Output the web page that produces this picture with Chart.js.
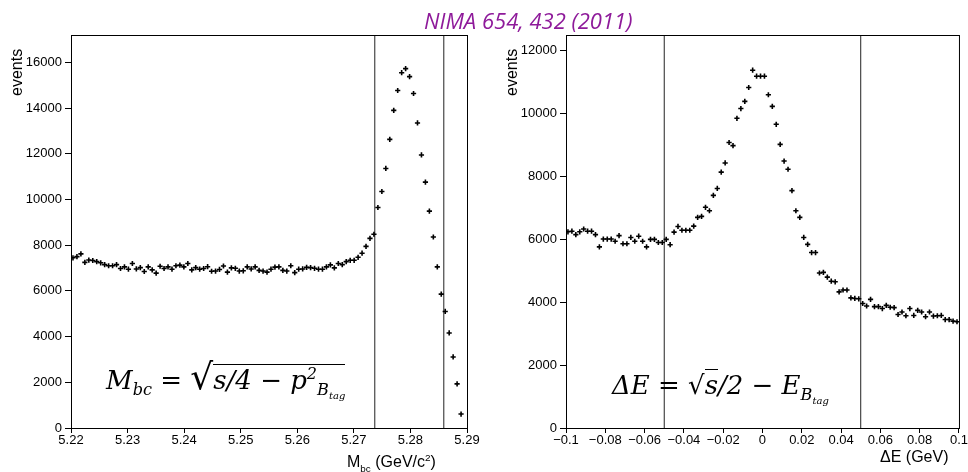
<!DOCTYPE html>
<html>
<head>
<meta charset="utf-8">
<script src="https://cdn.jsdelivr.net/npm/chart.js@4"></script>
<style>
  body { margin: 0; width: 968px; height: 472px; background: #fff; position: relative; overflow: hidden; font-family: "Liberation Sans", Arial, sans-serif; }
  .cv { position: absolute; top: 0; }
  .txt { position: absolute; white-space: nowrap; }
  .ytitle { transform: rotate(-90deg); transform-origin: left top; font-size: 16px; }
  .xtitle { font-size: 16px; }
  .formula { font-family: "DejaVu Serif", serif; font-style: italic; font-size: 26px; }
  sub, sup { font-size: 62%; }
</style>
</head>
<body>
<div id="w1" class="cv" style="left:0;width:480px;height:472px"><canvas id="c1"></canvas></div>
<div id="w2" class="cv" style="left:480px;width:488px;height:472px"><canvas id="c2"></canvas></div>

<div class="txt" style="left:424px;top:5px;font-size:22px;font-style:italic;color:#8e1a9a;font-family:'Open Sans',sans-serif">NIMA 654, 432 (2011)</div>
<div class="txt ytitle" style="left:8px;top:96px">events</div>
<div class="txt ytitle" style="left:503px;top:96px">events</div>
<div class="txt xtitle" style="left:347px;top:452px">M<sub>bc</sub> (GeV/c<sup>2</sup>)</div>
<div class="txt xtitle" style="left:880px;top:448px">ΔE (GeV)</div>
<div class="txt formula" style="left:106px;top:356px">M<sub>bc</sub> = <span style="font-style:normal;font-size:36px">√</span><span style="border-top:1.5px solid #000">s/4 − p<sup>2</sup><sub>B<sub>tag</sub></sub></span></div>
<div class="txt formula" style="left:612px;top:370px">ΔE = <span style="font-style:normal">√</span><span style="border-top:1.5px solid #000">s</span>/2 − E<sub>B<sub>tag</sub></sub></div>

<script>
// M_bc histogram: 100 bins of 0.0007 from 5.22
const mbcStart = 5.22, mbcBin = 0.0007;
const mbcCounts = [
  7450,7500,7620,7250,7350,7330,7280,7230,7150,7100,
  7100,7150,6980,7050,6950,7200,6960,7020,6850,7050,
  6920,6780,7080,6980,7050,6950,7100,7130,7050,7200,
  6920,7020,6950,6980,7060,6860,6870,6940,7090,6820,
  7010,6990,6870,6880,7050,6960,7050,6900,6870,6820,
  6950,7040,7050,6900,6870,7100,6800,6950,6960,7030,
  7020,6990,6950,6950,7050,7140,7010,7200,7150,7280,
  7340,7340,7470,7650,7950,8300,8480,
  9650,10350,11360,12630,13900,14770,15550,15730,15380,14640,
  13350,11950,10760,9490,8360,7050,5860,5100,4160,3110,1930,610
];
const mbcCuts = [5.2737, 5.2859];
const mbcXTicks = [5.22, 5.23, 5.24, 5.25, 5.26, 5.27, 5.28, 5.29];
const mbcYTicks = [0, 2000, 4000, 6000, 8000, 10000, 12000, 14000, 16000];

// Delta E histogram: 100 bins of 0.002 from -0.1
const deStart = -0.1, deBin = 0.002;
const deCounts = [
  6240,6260,6150,6240,6330,6260,6260,6150,5760,6010,
  6010,6010,5940,6120,5860,5860,6060,5940,6100,5940,
  5760,6000,6000,5900,5900,6000,5830,6230,6410,6290,
  6290,6290,6420,6700,6730,7020,6910,7400,7620,8140,
  8430,9080,8980,9850,10160,10390,10830,11380,11190,11190,
  11190,10600,10230,9660,9020,8490,8230,7550,6910,6700,
  6060,5840,5580,5580,4930,4950,4800,4670,4650,4330,
  4390,4390,4140,4120,4110,3960,3880,4090,3860,3860,
  3800,3900,3840,3830,3610,3690,3570,3800,3580,3740,
  3690,3540,3690,3560,3570,3580,3450,3450,3400,3380
];
const deCuts = [-0.05, 0.05];
const deXTicks = [-0.1, -0.08, -0.06, -0.04, -0.02, 0, 0.02, 0.04, 0.06, 0.08, 0.1];
const deYTicks = [0, 2000, 4000, 6000, 8000, 10000, 12000];

Chart.defaults.font.family = '"Liberation Sans", Arial, sans-serif';
Chart.defaults.color = '#000';

const frame = {
  id: 'frame',
  afterDraw(chart) {
    const a = chart.chartArea, ctx = chart.ctx;
    ctx.save();
    ctx.strokeStyle = '#000';
    ctx.lineWidth = 1;
    ctx.strokeRect(a.left + 0.5, a.top + 0.5, a.right - a.left, a.bottom - a.top);
    ctx.restore();
  }
};

function makeChart(id, start, bin, counts, cuts, xTicks, yTicks, ymax, yw, padRight, xfmt) {
  const pts = counts.map((v, i) => ({ x: start + bin * (i + 0.5), y: v }));
  const lines = cuts.map(c => ({
    type: 'line', data: [{ x: c, y: 0 }, { x: c, y: ymax }],
    borderColor: '#222', borderWidth: 1, pointRadius: 0
  }));
  return new Chart(document.getElementById(id), {
    type: 'scatter',
    data: {
      datasets: [{
        data: pts, pointStyle: 'cross', pointRadius: 2.6,
        borderColor: '#000', backgroundColor: '#000', borderWidth: 1.6
      }, ...lines]
    },
    options: {
      responsive: true, maintainAspectRatio: false, animation: false,
      layout: { padding: { left: 0, right: padRight, top: 35, bottom: 0 } },
      plugins: { legend: { display: false }, tooltip: { enabled: false } },
      scales: {
        x: {
          type: 'linear', min: xTicks[0], max: xTicks[xTicks.length - 1],
          afterFit: s => { s.height = 44; },
          afterBuildTicks: s => { s.ticks = xTicks.map(v => ({ value: v })); },
          ticks: { maxRotation: 0, autoSkip: false, font: { size: 13 }, padding: 0, callback: xfmt },
          grid: { drawOnChartArea: false, tickLength: 5, color: '#000' },
          border: { color: '#000' }
        },
        y: {
          min: 0, max: ymax,
          afterFit: s => { s.width = yw; },
          afterBuildTicks: s => { s.ticks = yTicks.map(v => ({ value: v })); },
          ticks: { autoSkip: false, font: { size: 13 }, padding: 3, callback: v => String(v) },
          grid: { drawOnChartArea: false, tickLength: 6, color: '#000' },
          border: { color: '#000' }
        }
      }
    },
    plugins: [frame]
  });
}

makeChart('c1', mbcStart, mbcBin, mbcCounts, mbcCuts, mbcXTicks, mbcYTicks, 17200, 71, 13,
  v => v.toFixed(2));
makeChart('c2', deStart, deBin, deCounts, deCuts, deXTicks, deYTicks, 12500, 86, 5,
  v => Math.abs(v) < 1e-9 ? '0' : (Math.round(v * 100) / 100).toString().replace('-', '−'));
</script>
</body>
</html>
